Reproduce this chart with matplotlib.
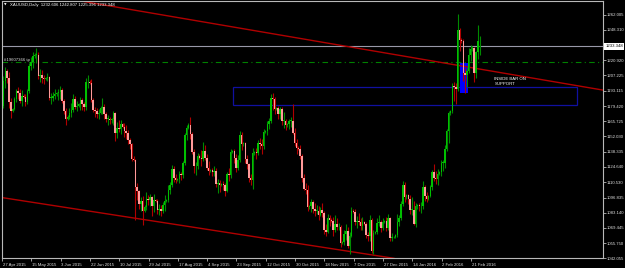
import matplotlib
matplotlib.use("Agg")
import matplotlib.pyplot as plt
from matplotlib.patches import Rectangle
import matplotlib.transforms as mtrans

plt.rcParams["font.family"] = ["Liberation Sans", "DejaVu Sans"]

# ---- daily XAUUSD bars, 27 Apr 2015 .. 25 Feb 2016 (Mon-Fri + Sunday bar) ----
opens = [
 1180,1202,1211,1205,1183,1175, 1177,1186,1193,1191,1184,1189, 1188,1183,1193,1216,1219,1225,
 1226,1226,1207,1208,1205,1204, 1205,1206,1187,1187,1189,1190, 1191,1192,1194,1184,1175,1168,
 1170,1173,1176,1186,1179,1180, 1181,1185,1181,1179,1201,1201, 1200,1185,1176,1175,1172,1173,
 1178,1179,1172,1168,1168,1167, 1168,1173,1155,1160,1159,1163, 1161,1157,1155,1149,1145,1132,
 1131,1106,1103,1091,1094,1085, 1088,1096,1095,1097,1089,1095, 1094,1086,1087,1085,1090,1094,
 1095,1104,1108,1123,1115,1113, 1114,1118,1117,1128,1153,1160, 1162,1154,1138,1125,1125,1134,
 1133,1132,1139,1133,1124,1121, 1122,1120,1121,1109,1110,1108, 1109,1108,1103,1118,1117,1138,
 1139,1133,1124,1131,1153,1145, 1146,1132,1127,1115,1113,1137, 1138,1137,1146,1145,1143,1156,
 1157,1163,1166,1187,1186,1177, 1178,1172,1177,1166,1166,1162, 1163,1166,1166,1155,1146,1142,
 1141,1134,1115,1105,1104,1088, 1089,1093,1087,1085,1085,1081, 1086,1083,1068,1066,1078,1077,
 1076,1068,1073,1070,1070,1056, 1057,1064,1067,1053,1062,1085, 1084,1075,1076,1075,1071,1075,
 1073,1063,1062,1077,1049,1065, 1066,1074,1075,1069,1075, 1076,1069,1078,1060,1061,1061,
 1063,1075,1078,1091,1108,1097, 1099,1096,1086,1086,1073,1089, 1090,1089,1089,1106,1098,1096,
 1098,1106,1120,1115,1114,1118, 1120,1128,1128,1141,1157,1173, 1175,1198,1197,1195,1248,1239,
 1238,1209,1208,1211,1226,1231, 1232,1209,1228,1232.606]
highs = [
 1207,1215,1213,1210,1187,1178, 1188,1195,1197,1195,1194,1190, 1190,1195,1218,1224,1228,1227,
 1232,1228,1213,1212,1208,1206, 1209,1207,1191,1192,1195,1192, 1195,1198,1196,1186,1178,1171,
 1178,1182,1190,1189,1184,1182, 1188,1187,1183,1205,1208,1203, 1204,1187,1179,1178,1177,1180,
 1187,1181,1174,1171,1170,1169, 1175,1174,1165,1167,1167,1164, 1164,1162,1158,1151,1146,1134,
 1132,1110,1104,1097,1098,1090, 1102,1099,1100,1098,1100,1096, 1096,1091,1090,1093,1099,1096,
 1108,1111,1126,1125,1118,1115, 1121,1120,1130,1155,1162,1164, 1170,1156,1141,1129,1137,1136,
 1140,1147,1144,1136,1130,1123, 1124,1125,1124,1114,1113,1110, 1112,1110,1120,1124,1141,1140,
 1141,1136,1135,1157,1156,1147, 1147,1135,1128,1118,1142,1139, 1142,1149,1151,1150,1159,1158,
 1166,1169,1190,1191,1188,1179, 1180,1179,1179,1174,1168,1164, 1168,1170,1181,1160,1150,1143,
 1144,1136,1118,1110,1108,1090, 1096,1095,1092,1090,1089,1088, 1092,1085,1073,1082,1081,1078,
 1079,1081,1078,1074,1072,1058, 1068,1073,1070,1066,1088,1087, 1087,1080,1083,1078,1079,1076,
 1075,1066,1081,1078,1068,1067, 1078,1081,1077,1078,1077, 1079,1082,1079,1065,1062,1064,
 1082,1081,1094,1112,1111,1100, 1100,1099,1097,1094,1092,1091, 1092,1093,1112,1108,1102,1099,
 1108,1122,1127,1121,1123,1121, 1131,1131,1144,1159,1175,1176, 1200,1201,1200,1263,1250,1241,
 1240,1214,1214,1232,1235,1234, 1233,1229,1253,1242.807]
lows = [
 1178,1196,1200,1178,1169,1174, 1176,1183,1186,1182,1180,1187, 1180,1181,1191,1212,1214,1223,
 1218,1204,1201,1200,1199,1203, 1202,1185,1181,1184,1186,1189, 1185,1186,1182,1172,1162,1167,
 1168,1170,1174,1177,1175,1179, 1176,1176,1175,1176,1196,1199, 1183,1174,1170,1169,1168,1172,
 1172,1168,1165,1162,1163,1164, 1162,1148,1151,1156,1154,1160, 1152,1150,1145,1141,1130,1130,
 1077,1095,1087,1085,1072,1084, 1086,1090,1089,1080,1084,1093, 1082,1081,1080,1083,1085,1093,
 1093,1100,1106,1111,1110,1112, 1110,1113,1115,1126,1149,1159, 1150,1136,1119,1117,1123,1132,
 1125,1130,1131,1122,1117,1120, 1116,1116,1106,1101,1102,1107, 1104,1098,1102,1112,1115,1137,
 1128,1120,1122,1129,1140,1143, 1128,1123,1111,1108,1105,1135, 1132,1135,1141,1136,1141,1155,
 1153,1159,1164,1176,1172,1176, 1168,1168,1162,1160,1158,1161, 1159,1161,1154,1143,1136,1140,
 1132,1111,1104,1100,1085,1087, 1084,1083,1080,1082,1077,1080, 1079,1064,1062,1065,1071,1075,
 1062,1066,1068,1068,1052,1055, 1054,1059,1051,1046,1061,1083, 1072,1069,1072,1068,1068,1072,
 1060,1058,1058,1047,1046,1064, 1064,1071,1066,1068,1074, 1067,1068,1058,1058,1060,1060,
 1061,1071,1077,1089,1093,1096, 1091,1082,1081,1072,1070,1087, 1085,1083,1087,1094,1093,1095,
 1097,1104,1112,1109,1108,1117, 1116,1121,1124,1139,1146,1171, 1173,1184,1181,1193,1229,1236,
 1202,1191,1197,1209,1220,1229, 1201,1205,1222,1225.396]
closes = [
 1202,1211,1205,1183,1175,1177, 1186,1193,1191,1184,1189,1188, 1183,1193,1216,1219,1225,1226,
 1226,1207,1208,1205,1204,1205, 1206,1187,1187,1189,1190,1191, 1192,1194,1184,1175,1168,1170,
 1173,1176,1186,1179,1180,1181, 1185,1181,1179,1201,1201,1200, 1185,1176,1175,1172,1173,1178,
 1179,1172,1168,1168,1167,1168, 1173,1155,1160,1159,1163,1161, 1157,1155,1149,1145,1132,1131,
 1106,1103,1091,1094,1085,1088, 1096,1095,1097,1089,1095,1094, 1086,1087,1085,1090,1094,1095,
 1104,1108,1123,1115,1113,1114, 1118,1117,1128,1153,1160,1162, 1154,1138,1125,1125,1134,1133,
 1132,1139,1133,1124,1121,1122, 1120,1121,1109,1110,1108,1109, 1108,1103,1118,1117,1138,1139,
 1133,1124,1131,1153,1145,1146, 1132,1127,1115,1113,1137,1138, 1137,1146,1145,1143,1156,1157,
 1163,1166,1187,1186,1177,1178, 1172,1177,1166,1166,1162,1163, 1166,1166,1155,1146,1142,1141,
 1134,1115,1105,1104,1088,1089, 1093,1087,1085,1085,1081,1086, 1083,1068,1066,1078,1077,1076,
 1068,1073,1070,1070,1056,1057, 1064,1067,1053,1062,1085,1084, 1075,1076,1075,1071,1075,1073,
 1063,1062,1077,1049,1065,1066, 1074,1075,1069,1075,1076, 1069,1078,1060,1061,1061,1063,
 1075,1078,1091,1108,1097,1099, 1096,1086,1086,1073,1089,1090, 1089,1089,1106,1098,1096,1098,
 1106,1120,1115,1114,1118,1120, 1128,1128,1141,1157,1173,1175, 1198,1197,1195,1248,1239,1238,
 1209,1208,1211,1226,1231,1232, 1209,1228,1238,1233.348]

date_labels = ["27 Apr 2015", "15 May 2015", "3 Jun 2015", "22 Jun 2015", "10 Jul 2015",
               "29 Jul 2015", "17 Aug 2015", "4 Sep 2015", "23 Sep 2015", "12 Oct 2015",
               "30 Oct 2015", "18 Nov 2015", "7 Dec 2015", "27 Dec 2015", "14 Jan 2016",
               "2 Feb 2016", "21 Feb 2016"]
date_bars = [0, 16, 32, 48, 64, 80, 96, 112, 128, 144, 160, 176, 192, 208, 224, 240, 256]

price_ticks = [1262.005, 1248.310, 1220.920, 1207.225, 1193.115, 1179.420, 1165.725,
               1152.030, 1138.335, 1124.640, 1110.530, 1096.835, 1083.140, 1069.445,
               1055.750, 1042.055]
last_price = 1233.348
tp_level = 1219.3
upper_trend = [(227.8, 1222.0), (320.3, 1195.9)]
lower_trend = [(0.27, 1096.6), (211.4, 1042.5)]
zone = (125.4, 1180.3, 313.2, 1196.6)       # support zone: x0, y0, x1, y1
inside_box = (249.5, 1191.3, 253.4, 1218.4)

W, H = 625, 268
fig = plt.figure(figsize=(W / 100, H / 100), dpi=100, facecolor="black")
ax = fig.add_axes([2 / W, (H - 258.3) / H, 601 / W, 257 / H])
ax.set_facecolor("black")

FS = 3.1
TXT = "#e0e0e0"

# zone rectangle
ax.add_patch(Rectangle((zone[0], zone[1]), zone[2] - zone[0], zone[3] - zone[1],
                       fill=False, edgecolor="#1010a0", lw=0.9, zorder=1))
# highlighted inside bar box
ax.add_patch(Rectangle((inside_box[0], inside_box[1]), inside_box[2] - inside_box[0],
                       inside_box[3] - inside_box[1], facecolor="#0000ff",
                       edgecolor="none", zorder=1))

# price line & tp line
ax.axhline(last_price, color="#9898a8", lw=0.8, zorder=1)
ax.axhline(tp_level, color="#008000", lw=0.8, ls=(0, (5, 3, 1, 3)), zorder=1)

# trendlines
for (x0, y0), (x1, y1) in (upper_trend, lower_trend):
    ax.axline((x0, y0), (x1, y1), color="#b00000", lw=1.0, zorder=2)

# candles
n = len(closes)
for i in range(n):
    o, h, l, c = opens[i], highs[i], lows[i], closes[i]
    if c >= o:
        wick, body = "#008a00", "#00c000"
    else:
        wick, body = "#b00000", "#ff9a9a"
    ax.vlines(i, l, h, color=wick, lw=0.8, zorder=3)
    lo, hi = min(o, c), max(o, c)
    if hi - lo < 0.6:
        hi = lo + 0.6
    ax.add_patch(Rectangle((i - 0.4, lo), 0.8, hi - lo, facecolor=body,
                           edgecolor="none", zorder=4))

ax.set_xlim(0.27, 327.3)
ax.set_ylim(1042.2, 1274.1)

for s in ax.spines.values():
    s.set_color("#b8b8b8")
    s.set_linewidth(0.8)

# x axis
ax.set_xticks([b - 0.8 for b in date_bars])
ax.set_xticklabels(date_labels)
ax.tick_params(axis="x", colors="#b8b8b8", length=2, width=0.6, pad=1.2,
               labelsize=FS, labelcolor=TXT)
off = mtrans.ScaledTranslation(0.8 / 100, 0, fig.dpi_scale_trans)
for lbl in ax.get_xticklabels():
    lbl.set_horizontalalignment("left")
    lbl.set_transform(lbl.get_transform() + off)

# y axis on right
ax.yaxis.tick_right()
ax.set_yticks(price_ticks)
ax.set_yticklabels([f"{p:.3f}" for p in price_ticks])
ax.tick_params(axis="y", colors="#b8b8b8", length=2, width=0.6, pad=0.8,
               labelsize=FS, labelcolor=TXT)
ybl = mtrans.blended_transform_factory(ax.transAxes, ax.transData)
ax.text(1.004, last_price, f"{last_price:.3f}", transform=ybl, fontsize=FS,
        color="black", ha="left", va="center",
        bbox=dict(boxstyle="square,pad=0.25", fc="white", ec="none"))

# annotations
ax.text(268, 1205.5, "INSIDE BAR ON\nSUPPORT", fontsize=FS, color="white",
        ha="left", va="top", linespacing=1.1, zorder=5)
axl = mtrans.blended_transform_factory(ax.transAxes, ax.transData)
ax.text(0.004, tp_level + 1.5, "#19607366 tp", transform=axl, fontsize=FS,
        color=TXT, ha="left", va="center", zorder=5)

fig.text(4 / W, 1 - 5 / H, "\u25BC", fontsize=2.4, color="white", ha="left",
         va="center", family="DejaVu Sans")
fig.text(10 / W, 1 - 5 / H, "XAUUSD,Daily  1232.606 1242.807 1225.396 1233.348",
         fontsize=FS, color="white", ha="left", va="center")

fig.savefig("out.png", dpi=100, facecolor="black")
